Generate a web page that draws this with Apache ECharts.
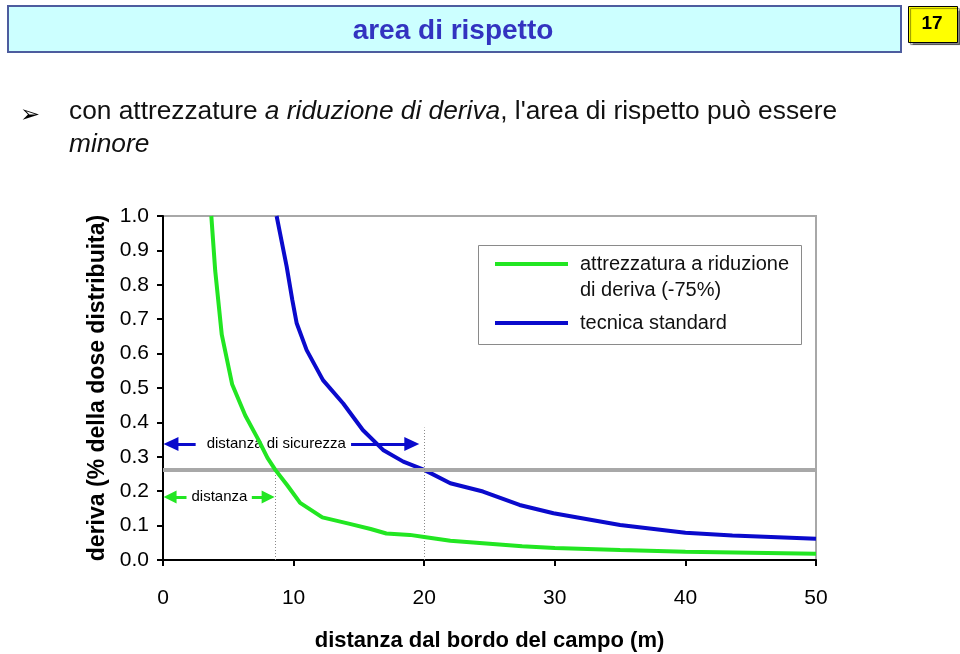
<!DOCTYPE html>
<html>
<head>
<meta charset="utf-8">
<script src="https://cdn.jsdelivr.net/npm/echarts@6/dist/echarts.min.js"></script>
<style>
html,body{margin:0;padding:0;background:#fff;}
#chart{width:960px;height:654px;}
</style>
</head>
<body>
<div id="chart"></div>
<script>
// ---- data ----
const seriesNames = ['attrezzatura a riduzione\ndi deriva (-75%)', 'tecnica standard'];
const distGreen  = [3.7, 4.0, 4.5, 5.3, 6.3, 7.3, 8.0, 8.6, 9.5, 10.5, 12.2, 14.3, 15.9, 17.1, 18.9, 20.0, 22.0, 24.5, 27.5, 30.0, 35.0, 40.0, 50.0];
const driftGreen = [1.0, 0.84, 0.655, 0.51, 0.42, 0.35, 0.297, 0.262, 0.218, 0.166, 0.124, 0.105, 0.09, 0.077, 0.073, 0.067, 0.056, 0.049, 0.040, 0.035, 0.029, 0.024, 0.018];
const distBlue   = [8.7, 8.96, 9.47, 9.9, 10.23, 11.0, 12.25, 13.8, 15.3, 16.85, 18.4, 20.0, 22.0, 24.5, 27.3, 29.9, 35.0, 40.0, 43.6, 50.0];
const driftBlue  = [1.0, 0.95, 0.853, 0.756, 0.689, 0.61, 0.523, 0.455, 0.378, 0.32, 0.286, 0.262, 0.223, 0.199, 0.16, 0.136, 0.102, 0.079, 0.071, 0.062];
const xTicks = [0, 10, 20, 30, 40, 50];
const yTicks = [0, 0.1, 0.2, 0.3, 0.4, 0.5, 0.6, 0.7, 0.8, 0.9, 1.0];
const safetyLevel = 0.262;          // grey threshold line
const crossGreen = 8.6;             // distance, green curve
const crossBlue = 20;               // safety distance, blue curve
const blueArrowY = 0.337;
const greenArrowY = 0.183;
const blueArrowSegs = [[0.61, 2.5], [14.4, 19.05]];
const greenArrowSegs = [[0.54, 1.8], [6.8, 8.05]];
const blueDottedTop = 0.385;
const labelSafety = 'distanza di sicurezza';
const labelDist = 'distanza';

const GREEN = '#22E622';
const BLUE = '#0A0ACC';

const chart = echarts.init(document.getElementById('chart'), null, {renderer: 'canvas'});

function pairs(xs, ys){ return xs.map((x,i)=>[x, ys[i]]); }

const option = {
  animation: false,
  backgroundColor: '#ffffff',
  grid: {left: 163, right: 144, top: 216, bottom: 94, containLabel: false, outerBoundsMode: 'none',
         show: true, borderColor: '#a8a8a8', borderWidth: 2, backgroundColor: 'transparent'},
  xAxis: {
    type: 'value', min: xTicks[0], max: xTicks[xTicks.length-1], interval: 10,
    name: 'distanza dal bordo del campo (m)', nameLocation: 'middle', nameGap: 70,
    nameTextStyle: {fontFamily: 'Liberation Sans', fontWeight: 'bold', fontSize: 22, color: '#000'},
    axisLine: {show: true, onZero: false, lineStyle: {color: '#000', width: 2}},
    axisTick: {show: true, inside: false, length: 6, lineStyle: {color: '#000', width: 2}},
    axisLabel: {fontFamily: 'Liberation Sans', fontSize: 21, color: '#000', margin: 28},
    splitLine: {show: false}
  },
  yAxis: {
    type: 'value', min: 0, max: 1, interval: 0.1,
    name: 'deriva (% della dose distribuita)', nameLocation: 'middle', nameGap: 53, nameRotate: 90,
    nameTextStyle: {fontFamily: 'Liberation Sans', fontWeight: 'bold', fontSize: 23, color: '#000'},
    axisLine: {show: true, onZero: false, lineStyle: {color: '#000', width: 2}},
    axisTick: {show: true, inside: false, length: 6, lineStyle: {color: '#000', width: 2}},
    axisLabel: {fontFamily: 'Liberation Sans', fontSize: 21, color: '#000', margin: 14, formatter: v => v.toFixed(1)},
    splitLine: {show: false}
  },
  legend: [
    {
      data: [seriesNames[0]], left: 495, top: 228, orient: 'vertical', padding: 0,
      icon: 'rect', itemWidth: 73, itemHeight: 4,
      formatter: name => '{s| }\n' + name.split('\n').map(t => '{a|' + t + '}').join('\n'),
      textStyle: {rich: {
        s: {fontSize: 20, lineHeight: 26},
        a: {fontFamily: 'Liberation Sans', fontSize: 20, color: '#111', lineHeight: 26, padding: [0, 0, 0, 7]}
      }}
    },
    {
      data: [seriesNames[1]], left: 495, top: 313, orient: 'vertical', padding: 0,
      icon: 'rect', itemWidth: 73, itemHeight: 4,
      formatter: name => '{a|' + name + '}',
      textStyle: {rich: {
        a: {fontFamily: 'Liberation Sans', fontSize: 20, color: '#111', lineHeight: 26, padding: [0, 0, 0, 7]}
      }}
    }
  ],
  series: [
    {
      name: seriesNames[0], type: 'line', data: pairs(distGreen, driftGreen),
      showSymbol: false, symbol: 'none', smooth: false, z: 5,
      lineStyle: {color: GREEN, width: 4}, itemStyle: {color: GREEN},
      markLine: {
        silent: true, animation: false,
        data: [
          // threshold line
          [{coord: [xTicks[0], safetyLevel], symbol: 'none', lineStyle: {color: '#a8a8a8', width: 4, type: 'solid'}, label: {show: false}},
           {coord: [xTicks[xTicks.length-1], safetyLevel], symbol: 'none'}],
          // dotted verticals
          [{coord: [crossGreen, 0], symbol: 'none', lineStyle: {color: '#8a8a8a', width: 1, type: [1, 2]}, label: {show: false}},
           {coord: [crossGreen, safetyLevel], symbol: 'none'}],
          [{coord: [crossBlue, 0], symbol: 'none', lineStyle: {color: '#8a8a8a', width: 1, type: [1, 2]}, label: {show: false}},
           {coord: [crossBlue, blueDottedTop], symbol: 'none'}],
          // green arrow
          [{coord: [greenArrowSegs[0][1], greenArrowY], symbol: 'none', lineStyle: {color: GREEN, width: 3, type: 'solid'},
            label: {show: true, position: 'start', distance: 5, formatter: labelDist, fontFamily: 'Liberation Sans', fontSize: 15, color: '#000'}},
           {coord: [greenArrowSegs[0][0], greenArrowY], symbol: 'triangle', symbolSize: [13, 13]}],
          [{coord: [greenArrowSegs[1][0], greenArrowY], symbol: 'none', lineStyle: {color: GREEN, width: 3, type: 'solid'}, label: {show: false}},
           {coord: [greenArrowSegs[1][1], greenArrowY], symbol: 'triangle', symbolSize: [13, 13]}],
          // blue arrow
          [{coord: [blueArrowSegs[0][1], blueArrowY], symbol: 'none', lineStyle: {color: BLUE, width: 3, type: 'solid'},
            label: {show: true, position: 'start', distance: 11, formatter: labelSafety, fontFamily: 'Liberation Sans', fontSize: 15, color: '#000'}},
           {coord: [blueArrowSegs[0][0], blueArrowY], symbol: 'triangle', symbolSize: [14, 15]}],
          [{coord: [blueArrowSegs[1][0], blueArrowY], symbol: 'none', lineStyle: {color: BLUE, width: 3, type: 'solid'}, label: {show: false}},
           {coord: [blueArrowSegs[1][1], blueArrowY], symbol: 'triangle', symbolSize: [14, 15]}]
        ]
      }
    },
    {
      name: seriesNames[1], type: 'line', data: pairs(distBlue, driftBlue),
      showSymbol: false, symbol: 'none', smooth: false, z: 4,
      lineStyle: {color: BLUE, width: 4}, itemStyle: {color: BLUE}
    }
  ],
  graphic: [
    // header bar
    {type: 'rect', left: 7, top: 5, shape: {width: 893, height: 46}, style: {fill: '#CCFFFF', stroke: '#4D5C9E', lineWidth: 2}, z: 0},
    {type: 'text', x: 453, y: 31, style: {text: 'area di rispetto', fill: '#3333C0', align: 'center', verticalAlign: 'middle', font: 'bold 28px "Liberation Sans", sans-serif'}, z: 1},
    // page number
    {type: 'rect', left: 908, top: 6, shape: {width: 49, height: 36}, style: {fill: '#FFFF00', stroke: '#000', lineWidth: 1, shadowColor: 'rgba(0,0,0,0.45)', shadowOffsetX: 2, shadowOffsetY: 2, shadowBlur: 1}, z: 1},
    {type: 'text', x: 932, y: 24, style: {text: '17', fill: '#000', align: 'center', verticalAlign: 'middle', font: 'bold 19px "Liberation Sans", sans-serif'}, z: 2},
    // bullet
    {type: 'text', x: 30, y: 116, style: {text: '\u27A2', fill: '#000', align: 'center', verticalAlign: 'middle', font: '24px "DejaVu Sans", sans-serif'}, z: 1},
    {type: 'text', left: 69, top: 99, style: {
      text: '{n|con attrezzature }{i|a riduzione di deriva}{n|, l\'area di rispetto può essere}\n{i|minore}',
      rich: {
        n: {fontFamily: 'Liberation Sans', fontSize: 26.3, fill: '#111', color: '#111', lineHeight: 33},
        i: {fontFamily: 'Liberation Sans', fontStyle: 'italic', fontSize: 26.3, fill: '#111', color: '#111', lineHeight: 33}
      }
    }, z: 1},
    // legend frame
    {type: 'rect', left: 478, top: 245, shape: {width: 323, height: 99}, style: {fill: '#fff', stroke: '#8a8a8a', lineWidth: 1}, z: 3}
  ]
};
chart.setOption(option);
</script>
</body>
</html>
